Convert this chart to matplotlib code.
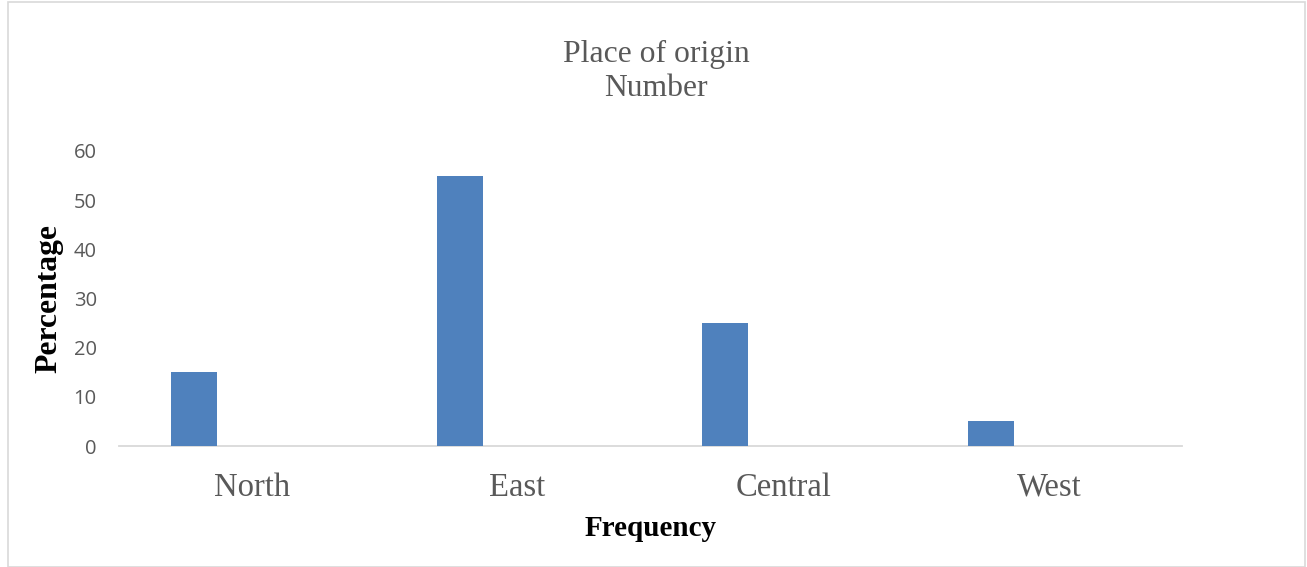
import matplotlib
matplotlib.use("Agg")
import matplotlib.pyplot as plt
from matplotlib.patches import Rectangle
import numpy as np

categories = ["North", "East", "Central", "West"]
values = [15, 55, 25, 5]
yticks = [0, 10, 20, 30, 40, 50, 60]

fig = plt.figure(figsize=(13.07, 5.67), dpi=100)
ax = fig.add_axes([119/1307, 1-446/567, (1182-119)/1307, (446-151)/567])

x = np.arange(len(categories))
ax.bar(x - 0.218, values, width=0.173, color="#4F81BD", edgecolor="none", zorder=3)

ax.set_xlim(-0.5, len(categories) - 0.5)
ax.set_ylim(0, 60)
ax.set_yticks(yticks)
ax.set_yticklabels([str(t) for t in yticks], fontfamily="Open Sans", fontsize=14.5, color="#595959")
ax.set_xticks(x)
ax.set_xticklabels(categories, fontfamily="Liberation Serif", fontsize=23.5, color="#595959")
ax.tick_params(axis="both", length=0)
ax.tick_params(axis="y", pad=16)
ax.tick_params(axis="x", pad=19)
for s in ["top", "right", "left"]:
    ax.spines[s].set_visible(False)
ax.spines["bottom"].set_color("#D9D9D9")
ax.spines["bottom"].set_linewidth(1.3)

ax.set_xlabel("Frequency", fontfamily="Liberation Serif", fontsize=21, fontweight="bold", color="black")
ax.xaxis.set_label_coords(0.5, -(529-446)/295, transform=ax.transAxes)
ax.xaxis.label.set_va("center")
ax.set_ylabel("Percentage", fontfamily="Liberation Serif", fontsize=22.8, fontweight="bold", color="black")
ax.yaxis.set_label_coords(-(119-49)/1063, 0.5)
ax.yaxis.label.set_va("center")

fig.text(656/1307, 1-54/567, "Place of origin", ha="center", va="center",
         fontfamily="Liberation Serif", fontsize=22.8, color="#595959")
fig.text(656/1307, 1-88/567, "Number", ha="center", va="center",
         fontfamily="Liberation Serif", fontsize=22.8, color="#595959")

fig.patches.append(Rectangle((8/1307, 0.5/567), (1305-8)/1307, 565/567, transform=fig.transFigure,
                             fill=False, edgecolor="#D9D9D9", linewidth=1.2))

fig.savefig("out.png", dpi=100)
